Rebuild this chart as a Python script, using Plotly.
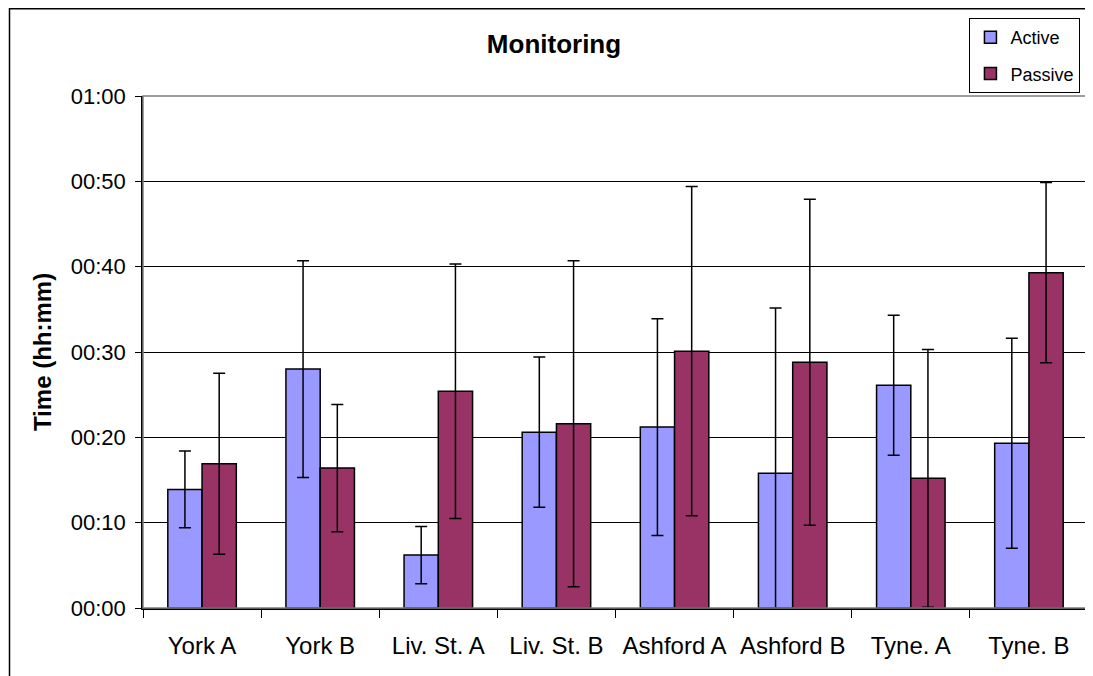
import plotly.graph_objects as go

categories = ["York A", "York B", "Liv. St. A", "Liv. St. B", "Ashford A", "Ashford B", "Tyne. A", "Tyne. B"]
# values in minutes
active = [13.9, 28.0, 6.2, 20.6, 21.2, 15.8, 26.1, 19.3]
active_err = [4.5, 12.7, 3.35, 8.8, 12.7, 19.35, 8.2, 12.3]
passive = [16.9, 16.4, 25.4, 21.6, 30.1, 28.8, 15.2, 39.3]
passive_err = [10.6, 7.45, 14.9, 19.1, 19.3, 19.1, 15.1, 10.55]

tick_vals = [0, 10, 20, 30, 40, 50, 60]
tick_text = ["00:00", "00:10", "00:20", "00:30", "00:40", "00:50", "01:00"]

FONT = "Liberation Sans, Arial, sans-serif"

fig = go.Figure()
fig.add_trace(go.Bar(
    name="Active", x=categories, y=active, legendgroup="a",
    marker=dict(color="#9999FF", line=dict(color="#000000", width=1.5)),
    error_y=dict(type="data", array=active_err, visible=True, color="#000000", thickness=1.5, width=6),
))
fig.add_trace(go.Bar(
    name="Passive", x=categories, y=passive, legendgroup="p",
    marker=dict(color="#993366", line=dict(color="#000000", width=1.5)),
    error_y=dict(type="data", array=passive_err, visible=True, color="#000000", thickness=1.5, width=6),
))

# page body has an 8px margin, so the figure is laid out 8px smaller
W, H = 1085, 668
L, R, T, B = 135, 5, 88, 68
pw = W - L - R
ph = H - T - B

fig.update_layout(
    width=W, height=H,
    margin=dict(l=L, r=R, t=T, b=B, autoexpand=False),
    paper_bgcolor="white", plot_bgcolor="white",
    barmode="group", bargap=0.42, bargroupgap=0,
    font=dict(family=FONT, color="#000000"),
    title=dict(text="<b>Monitoring</b>", font=dict(size=26, family=FONT, color="#000000"),
               x=546 / W, xref="container", xanchor="center",
               y=1 - 36 / H, yref="container", yanchor="middle"),
    legend=dict(x=0.992, xanchor="right", y=1 + (T - 10) / ph, yanchor="top",
                bordercolor="#000000", borderwidth=1, bgcolor="white",
                font=dict(size=18, family=FONT), traceorder="grouped", tracegroupgap=10,
                itemwidth=30),
    showlegend=True,
)
fig.update_xaxes(
    showline=True, linecolor="#000000", linewidth=1.5,
    ticks="outside", tickson="boundaries", ticklen=8, tickcolor="#000000",
    tickfont=dict(size=24, family=FONT), ticklabelstandoff=15,
    showgrid=False, automargin=False,
)
fig.update_yaxes(
    range=[0, 60], tickvals=tick_vals, ticktext=tick_text,
    showline=True, linecolor="#000000", linewidth=1.5,
    ticks="outside", ticklen=6, tickcolor="#000000",
    tickfont=dict(size=22, family=FONT), ticklabelstandoff=5,
    showgrid=True, gridcolor="#000000", gridwidth=1, zeroline=False,
    title=dict(text="<b>Time (hh:mm)</b>", font=dict(size=24, family=FONT), standoff=12),
    automargin=False,
)
# plot-area border (grey) and outer chart border
fig.add_shape(type="rect", xref="paper", yref="paper", x0=0, x1=1, y0=0, y1=1,
              line=dict(color="#808080", width=1.5), layer="above")
fig.add_shape(type="rect", xref="paper", yref="paper",
              x0=(1.5 - L) / pw, x1=(W + 10 - L) / pw,
              y0=-(H + 10 - T - ph) / ph, y1=1 + (T - 0.75) / ph,
              line=dict(color="#000000", width=1.5), layer="above")

fig.write_html("out.html")
